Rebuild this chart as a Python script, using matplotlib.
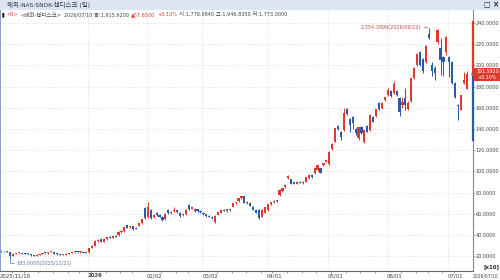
import numpy as np
import pandas as pd
import matplotlib
matplotlib.use('Agg')
import matplotlib.pyplot as plt
import matplotlib.transforms as mtransforms
from matplotlib.patches import Rectangle, Polygon
from matplotlib import font_manager

# pick the narrowest latin family that is around, Korean falls back to Noto CJK
ttf = font_manager.fontManager.ttflist
names = {f.name for f in ttf}
stretch = 'normal'
if 'Liberation Sans Narrow' in names:
    base = 'Liberation Sans Narrow'
elif any(f.name == 'DejaVu Sans' and f.stretch == 'condensed' for f in ttf):
    base, stretch = 'DejaVu Sans', 'condensed'
else:
    base = 'Liberation Sans'
plt.rcParams['font.family'] = [base, 'Noto Sans CJK KR', 'DejaVu Sans']
plt.rcParams['font.stretch'] = stretch

# trading calendar (US market holidays in range)
holidays = ['2025-11-27', '2025-12-25', '2026-01-01', '2026-01-19', '2026-02-16',
            '2026-04-03', '2026-05-25', '2026-06-19', '2026-07-03']
dates = pd.bdate_range('2025-11-18', '2026-07-10').drop(pd.to_datetime(holidays))

# daily OHLC (price)
opens = [245, 250, 247, 236, 205, 226, 229, 231, 226, 221, 216, 209, 205, 212, 222, 232, 228, 239, 242, 225,
         218, 212, 216, 224, 232, 236, 241, 237, 241, 233,
         236, 278, 298, 342, 360, 338, 362, 384, 374, 392, 398, 430, 436, 492, 472, 482, 468, 488, 512, 653,
         570, 640, 570, 608, 590, 575, 550, 640, 608, 625, 635, 612, 588, 595, 684, 648, 625, 642, 628,
         612, 595, 582, 575, 520, 590, 610, 640, 628, 642, 668, 700, 718, 745, 765, 700, 705, 668, 640, 640,
         575, 612,
         632, 692, 710, 728, 778, 815, 850, 935, 925, 898, 885, 905, 890, 905, 935, 962, 985, 1014, 1030, 1060,
         1092,
         1070, 1209, 1281, 1429, 1375, 1391, 1586, 1492, 1510, 1398, 1313, 1416, 1281, 1429, 1391, 1510, 1523,
         1643, 1600, 1675,
         1725, 1760, 1737, 1760, 1690, 1630, 1690, 1590, 1660, 1878, 2000, 2130, 2060, 2030, 2300, 2004, 1975,
         2224, 2161, 2083, 2130,
         2080, 2033, 1834, 1625, 1580, 1835, 1778.984]
highs = [256, 253, 250, 240, 228, 233, 235, 234, 229, 224, 219, 212, 215, 225, 233, 235, 241, 250, 244, 228,
         221, 219, 227, 235, 238, 243, 244, 245, 243, 239,
         280, 305, 350, 362, 364, 370, 386, 390, 394, 398, 434, 445, 480, 498, 490, 486, 472, 515, 555, 662,
         715, 645, 595, 615, 596, 580, 605, 648, 628, 668, 640, 616, 605, 642, 690, 665, 655, 646, 632,
         618, 600, 590, 580, 585, 620, 645, 645, 648, 646, 705, 715, 750, 770, 770, 718, 708, 672, 645, 645,
         645, 665,
         695, 712, 728, 732, 830, 845, 878, 968, 930, 902, 910, 910, 906, 950, 972, 966, 1035, 1065, 1034, 1082,
         1112,
         1190, 1265, 1410, 1440, 1385, 1595, 1600, 1500, 1520, 1410, 1420, 1425, 1395, 1435, 1540, 1520, 1590,
         1650, 1655, 1705,
         1790, 1772, 1855, 1768, 1700, 1700, 1790, 1660, 1885, 1985, 2120, 2140, 2070, 2190, 2354.3899, 2030, 1990,
         2340, 2256, 2090, 2275,
         2090, 2040, 1840, 1635, 1725, 1940, 1946.835]
lows = [241, 243, 236, 183, 200, 222, 225, 223, 217, 214, 207, 201, 203, 210, 219, 224, 226, 236, 222, 214,
        209, 209, 214, 221, 229, 233, 234, 235, 231, 230,
        233, 274, 294, 338, 332, 335, 358, 370, 370, 380, 395, 424, 432, 466, 468, 450, 455, 484, 508, 550,
        562, 556, 565, 580, 570, 535, 545, 600, 602, 620, 610, 572, 582, 590, 640, 642, 620, 620, 610,
        590, 575, 566, 555, 510, 585, 605, 625, 622, 628, 662, 695, 712, 740, 700, 695, 670, 636, 606, 552,
        570, 605,
        628, 688, 705, 715, 772, 808, 845, 925, 878, 880, 880, 888, 885, 900, 930, 940, 980, 1008, 985, 1055,
        1086,
        1062, 1200, 1275, 1392, 1297, 1385, 1530, 1375, 1400, 1340, 1300, 1350, 1270, 1370, 1385, 1465, 1515,
        1580, 1590, 1665,
        1715, 1700, 1730, 1715, 1520, 1600, 1580, 1580, 1650, 1870, 1990, 1990, 1930, 2020, 2245, 1900, 1860,
        2200, 1910, 1900, 2100,
        1895, 1820, 1690, 1485, 1575, 1820, 1773.0]
closes = [250, 245, 238, 198, 225, 230, 232, 226, 220, 218, 210, 205, 212, 222, 230, 228, 238, 246, 225, 218,
          212, 216, 224, 232, 235, 240, 237, 242, 234, 236,
          275, 300, 345, 355, 336, 365, 380, 374, 390, 385, 430, 440, 475, 470, 485, 455, 460, 510, 550, 560,
          660, 560, 590, 585, 575, 540, 600, 605, 620, 640, 615, 578, 600, 637, 645, 660, 650, 625, 615,
          595, 580, 570, 560, 580, 615, 640, 630, 642, 632, 700, 710, 745, 765, 706, 712, 675, 640, 612, 558,
          640, 660,
          690, 708, 722, 718, 825, 840, 872, 960, 882, 885, 905, 893, 902, 945, 967, 945, 1030, 1061, 989, 1077,
          1108,
          1180, 1259, 1407, 1398, 1328, 1555, 1542, 1438, 1455, 1360, 1416, 1360, 1391, 1375, 1533, 1470, 1586,
          1586, 1645, 1700,
          1770, 1712, 1825, 1725, 1560, 1650, 1625, 1645, 1878, 1973, 2110, 2000, 1945, 2180, 2255, 1950, 1926,
          2334, 2051, 2036, 2265,
          2035, 1834, 1702, 1615, 1721, 1858.27, 1915.92]

# vertical price band drawn on the axis line (x10 units)
band_low, band_high = 129.5, 241.0

RED = '#dc3a2f'
BLUE = '#2a5aa8'
GRID = '#d4d4d4'
TXT = '#444444'

scale = 10.0
o = np.array(opens) / scale
h = np.array(highs) / scale
l = np.array(lows) / scale
c = np.array(closes) / scale
x = np.arange(len(dates))
colors = np.where(c >= o, RED, BLUE)

fig = plt.figure(figsize=(5, 2.8), dpi=100)
fig.patch.set_facecolor('white')
renderer = fig.canvas.get_renderer()


def fit(s, width_px, **kw):
    # font size that makes string s about width_px wide
    t = fig.text(0, 0, s, fontsize=10, **kw)
    w = t.get_window_extent(renderer).width
    t.remove()
    return 10 * width_px / w


ax = fig.add_axes([0, 0.0321, 0.9454, 0.934])
ax.set_xlim(-0.5, 161)
ax.set_ylim(6.1, 252.7)

# candles
ax.vlines(x, l, h, colors=colors, lw=0.7, zorder=3)
ax.bar(x, np.maximum(np.abs(c - o), 0.9), bottom=np.minimum(o, c), width=0.74,
       color=colors, edgecolor='none', zorder=4)

# month grid / labels
month_start = [i for i in range(15, len(dates)) if dates[i].month != dates[i - 1].month]
week_start = [i for i in range(1, len(dates)) if dates[i].weekday() < dates[i - 1].weekday()]
for i in month_start:
    ax.axvline(i - 0.4, color=GRID, lw=0.6, ls=(0, (1, 2)), zorder=1)
ax.set_yticks(np.arange(20, 241, 20))
ax.grid(axis='y', color=GRID, lw=0.6, ls=(0, (1, 2)), zorder=1)

xs = fit('2025/11/18', 31)
tick_pos = [-0.5] + [i - 0.4 for i in month_start]
tick_lab = [dates[0].strftime('%Y/%m/%d')]
for i in month_start:
    tick_lab.append(str(dates[i].year) if dates[i].month == 1 else dates[i].strftime('%m/%d'))
ax.set_xticks(tick_pos, tick_lab)
ax.set_xticks([i - 0.4 for i in week_start], minor=True)
for lab in ax.get_xticklabels():
    lab.set_horizontalalignment('left')
    if lab.get_text() == '2026':
        lab.set_fontweight('bold')
ax.tick_params(axis='x', which='major', length=0, pad=1.5, labelsize=xs, labelcolor=TXT)
ax.tick_params(axis='x', which='minor', length=1.5, width=0.5, color='#777')

ys = fit('240.0000', 23.5)
ax.yaxis.tick_right()
ax.set_yticks(np.arange(10, 250, 10), minor=True)
ax.set_yticklabels([f'{v:.4f}' for v in ax.get_yticks()])
ax.tick_params(axis='y', which='major', length=1.5, width=0.5, pad=0.8, labelsize=ys,
               labelcolor=TXT, color='#777')
ax.tick_params(axis='y', which='minor', length=1, width=0.5, color='#999')

ax.spines['top'].set_visible(False)
ax.spines['left'].set_color('#6f8fc0')
ax.spines['left'].set_linewidth(1.2)
ax.spines['bottom'].set_color('#666')
ax.spines['bottom'].set_linewidth(0.8)
ax.spines['right'].set_color('#888')
ax.spines['right'].set_linewidth(0.8)

# price band on the right axis
trans = mtransforms.blended_transform_factory(ax.transAxes, ax.transData)
last = c[-1]
ax.plot([1.0, 1.0], [last, band_high], color=RED, lw=1.6, transform=trans, clip_on=False, zorder=5)
ax.plot([1.0, 1.0], [band_low, last], color=BLUE, lw=1.6, transform=trans, clip_on=False, zorder=5)

# last price box
chg = closes[-1] - closes[-2]
pct = chg / closes[-2] * 100
bs = fit(f'{last:.4f}', 23)
ax.add_patch(Rectangle((1.002, last - 6.4), 0.058, 12.8, transform=trans, facecolor=RED,
                       edgecolor='none', clip_on=False, zorder=6))
ax.add_patch(Polygon([(0.996, last), (1.004, last + 3), (1.004, last - 3)], closed=True, transform=trans,
                     facecolor=RED, edgecolor='none', clip_on=False, zorder=6))
ax.text(1.031, last + 2.9, f'{last:.4f}', transform=trans, ha='center', va='center',
        fontsize=bs, color='white', zorder=7)
ax.text(1.031, last - 3.0, f'{pct:+.2f}%', transform=trans, ha='center', va='center',
        fontsize=bs, color='white', zorder=7)

# max / min annotations
imax = int(np.argmax(h))
s_max = f'{highs[imax]:,.4f}({dates[imax]:%Y/%m/%d})'
ax.annotate(s_max, xy=(imax - 0.3, h[imax]),
            xytext=(-5, 0), textcoords='offset points', ha='right', va='center',
            fontsize=fit(s_max, 60), color='#c0504d',
            arrowprops=dict(arrowstyle='-', color='#c0504d', lw=0.6, shrinkA=0.5, shrinkB=0))
imin = int(np.argmin(l))
s_min = f'{lows[imin]:.4f}({dates[imin]:%Y/%m/%d})'
ax.annotate(s_min, xy=(imin, l[imin]),
            xytext=(4.5, -3.6), textcoords='offset points', ha='left', va='center',
            fontsize=fit(s_min, 56), color='#5a78a8',
            arrowprops=dict(arrowstyle='-', color='#5a78a8', lw=0.5, shrinkA=0, shrinkB=0,
                            connectionstyle='angle,angleA=0,angleB=90,rad=0'))

# header line inside the chart
pieces = [('▮', '#000000'), ('<R>', RED), ('<해외-샌디스크>', TXT),
          (f'{dates[-1]:%Y/%m/%d} 종:{closes[-1]:,.4f}', TXT),
          (f'▲{chg:.4f}', RED), (f'{pct:+.2f}%', RED),
          (f'시:{opens[-1]:,.4f} 고:{highs[-1]:,.4f} 저:{lows[-1]:,.4f}', TXT)]
hs = fit(' '.join(p[0] for p in pieces), 285)
t = ax.text(0.004, 0.971, pieces[0][0], transform=ax.transAxes, ha='left', va='bottom',
            fontsize=hs, color=pieces[0][1])
for s, col in pieces[1:]:
    t = ax.annotate(s, xy=(1, 0), xycoords=t, xytext=(1.6, 0), textcoords='offset points',
                    ha='left', va='bottom', fontsize=hs, color=col)

# window title bar
title = '해외-NAS:SNDK-샌디스크 (일)'
fig.patches.append(Rectangle((0, 1 - 9.5 / 280), 1, 9.5 / 280, transform=fig.transFigure,
                             facecolor='#dbe6f2', edgecolor='none', zorder=0))
fig.text(7 / 500, 1 - 5 / 280, title, ha='left', va='center',
         fontsize=fit(title, 82), color='#333333')
fig.text(487 / 500, 1 - 5 / 280, '□', ha='center', va='center', fontsize=5.5, color='#222222')
fig.text(495 / 500, 1 - 5 / 280, '×', ha='center', va='center', fontsize=6, color='#222222',
         fontweight='bold')

# bottom right labels
end_lab = f'{dates[-1]:%Y/%m/%d}'
fig.text(473 / 500, 1 - 275.5 / 280, end_lab, ha='left', va='center',
         fontsize=fit(end_lab, 26), color=TXT)
fig.text(499 / 500, 1 - 267 / 280, '[x10]', ha='right', va='center',
         fontsize=fit('[x10]', 16, fontweight='bold'), color='#222222', fontweight='bold')

fig.savefig('out.png', dpi=100)
